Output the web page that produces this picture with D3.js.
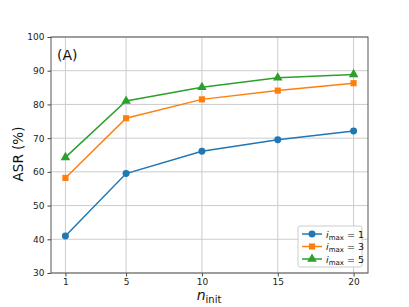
<!DOCTYPE html>
<html><head><meta charset="utf-8">
<script src="https://cdn.jsdelivr.net/npm/d3@7"></script>
<style>body{margin:0;background:#fff}svg{display:block;font-family:"DejaVu Sans",sans-serif}</style>
</head><body><svg id="c" width="409" height="307"></svg>
<script>
const xValues = [1, 5, 10, 15, 20];
const imax1 = [41.0, 59.5, 66.1, 69.5, 72.1];
const imax3 = [58.2, 75.9, 81.5, 84.1, 86.3];
const imax5 = [64.3, 81.0, 85.1, 87.9, 88.9];
const seriesNames = ["1", "3", "5"];
const yTicks = [30, 40, 50, 60, 70, 80, 90, 100];

const colors = ["#1f77b4", "#ff7f0e", "#2ca02c"];
const symbols = [d3.symbolCircle, d3.symbolSquare, d3.symbolTriangle];
const series = [imax1, imax3, imax5];

const svg = d3.select("#c");
const L = 51, R = 368, T = 37, B = 273;
const x = d3.scaleLinear().domain([0.05, 20.95]).range([L, R]);
const y = d3.scaleLinear().domain([30, 100]).range([B, T]);

// grid
const g = svg.append("g");
g.selectAll(".gx").data(xValues).enter().append("line")
  .attr("x1", d => x(d)).attr("x2", d => x(d)).attr("y1", T).attr("y2", B)
  .attr("stroke", "#cccccc").attr("stroke-width", 1);
g.selectAll(".gy").data(yTicks).enter().append("line")
  .attr("x1", L).attr("x2", R).attr("y1", d => y(d)).attr("y2", d => y(d))
  .attr("stroke", "#cccccc").attr("stroke-width", 1);

// axes
const xAxis = svg.append("g").attr("transform", `translate(0,${B})`)
  .call(d3.axisBottom(x).tickValues(xValues).tickSize(3.5).tickPadding(2.5).tickFormat(d3.format("d")));
const yAxis = svg.append("g").attr("transform", `translate(${L},0)`)
  .call(d3.axisLeft(y).tickValues(yTicks).tickSize(3.5).tickPadding(3).tickFormat(d3.format("d")));
[xAxis, yAxis].forEach(a => {
  a.select(".domain").remove();
  a.selectAll("text").attr("font-size", 9).attr("fill", "#222").attr("font-family", "DejaVu Sans");
  a.selectAll("line").attr("stroke", "#444");
});
svg.append("rect").attr("x", L).attr("y", T).attr("width", R - L).attr("height", B - T)
  .attr("fill", "none").attr("stroke", "#555").attr("stroke-width", 1);

// lines
const line = d3.line().x((d, i) => x(xValues[i])).y(d => y(d));
series.forEach((s, k) => {
  svg.append("path").datum(s).attr("d", line).attr("fill", "none")
    .attr("stroke", colors[k]).attr("stroke-width", 1.5);
  svg.selectAll(".m" + k).data(s).enter().append("path")
    .attr("d", d3.symbol().type(symbols[k]).size(k === 2 ? 40 : 38))
    .attr("transform", (d, i) => `translate(${x(xValues[i])},${y(d)})`)
    .attr("fill", colors[k]);
});

// panel label
svg.append("text").attr("x", 57).attr("y", 59.5).attr("font-size", 14).attr("fill", "#111").text("(A)");

// axis labels
svg.append("text").attr("transform", "translate(23,154) rotate(-90)").attr("text-anchor", "middle")
  .attr("font-size", 13.5).attr("fill", "#111").text("ASR (%)");
const xl = svg.append("text").attr("x", 209).attr("y", 300).attr("text-anchor", "middle").attr("fill", "#111");
xl.append("tspan").attr("font-size", 14).attr("font-style", "italic").text("n");
xl.append("tspan").attr("font-size", 10).attr("dy", 3).text("init");

// legend
const lg = svg.append("g").attr("transform", "translate(298,226)");
lg.append("rect").attr("width", 64).attr("height", 41).attr("rx", 2)
  .attr("fill", "#fff").attr("fill-opacity", 0.85).attr("stroke", "#ccc");
seriesNames.forEach((n, k) => {
  const yy = 8 + k * 12.5;
  lg.append("line").attr("x1", 4).attr("x2", 24).attr("y1", yy).attr("y2", yy)
    .attr("stroke", colors[k]).attr("stroke-width", 1.5);
  lg.append("path").attr("d", d3.symbol().type(symbols[k]).size(k === 2 ? 40 : 38))
    .attr("transform", `translate(14,${yy})`).attr("fill", colors[k]);
  const t = lg.append("text").attr("x", 28).attr("y", yy + 3.5).attr("font-size", 9.5).attr("fill", "#111");
  t.append("tspan").attr("font-style", "italic").text("i");
  t.append("tspan").attr("font-size", 7).attr("dy", 2).text("max");
  t.append("tspan").attr("dy", -2).text(" = " + n);
});
</script></body></html>
